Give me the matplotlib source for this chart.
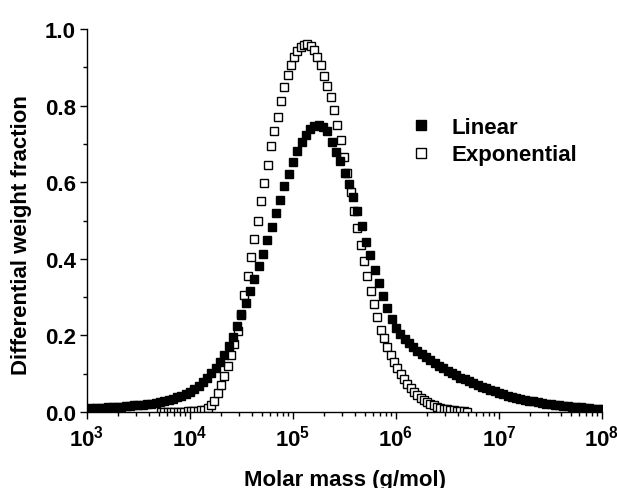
import numpy as np
import matplotlib
matplotlib.use("Agg")
import matplotlib.pyplot as plt
from matplotlib.ticker import LogLocator, MultipleLocator, FuncFormatter, NullFormatter

plt.rcParams['font.family'] = 'Liberation Sans'
plt.rcParams['font.weight'] = 'bold'
plt.rcParams['mathtext.fontset'] = 'custom'
plt.rcParams['mathtext.bf'] = 'Liberation Sans:bold'
plt.rcParams['mathtext.rm'] = 'Liberation Sans:bold'

# molar mass grids (log10 of g/mol), evenly spaced in log M
lin_logM = np.linspace(3.0, 8.0, 121)
exp_logM = np.linspace(3.72, 6.69, 93)

# differential weight fraction
linear = [
    0.009, 0.010, 0.010, 0.011, 0.011, 0.012, 0.012, 0.013, 0.014, 0.015,
    0.016, 0.017, 0.018, 0.019, 0.020, 0.022, 0.024, 0.026, 0.028, 0.031,
    0.034, 0.038, 0.042, 0.047, 0.053, 0.060, 0.068, 0.078, 0.090, 0.102,
    0.116, 0.131, 0.150, 0.172, 0.197, 0.224, 0.253, 0.285, 0.316, 0.347,
    0.380, 0.413, 0.448, 0.484, 0.519, 0.553, 0.589, 0.622, 0.653, 0.681,
    0.705, 0.724, 0.738, 0.746, 0.749, 0.745, 0.733, 0.706, 0.680, 0.655,
    0.625, 0.595, 0.562, 0.525, 0.485, 0.445, 0.410, 0.372, 0.337, 0.303,
    0.272, 0.243, 0.220, 0.203, 0.190, 0.179, 0.169, 0.160, 0.151, 0.143,
    0.135, 0.128, 0.121, 0.114, 0.108, 0.102, 0.096, 0.090, 0.085, 0.080,
    0.075, 0.070, 0.066, 0.062, 0.058, 0.054, 0.050, 0.047, 0.043, 0.040,
    0.037, 0.035, 0.032, 0.030, 0.028, 0.026, 0.024, 0.022, 0.020, 0.019,
    0.017, 0.016, 0.015, 0.014, 0.013, 0.012, 0.011, 0.010, 0.009, 0.008,
    0.008,
]
exponential = [
    0.0002, 0.0003, 0.0004, 0.0005, 0.0006, 0.0008, 0.0010, 0.0012, 0.0015, 0.0019,
    0.0024, 0.0030, 0.004, 0.006, 0.010, 0.017, 0.030, 0.049, 0.070, 0.093,
    0.119, 0.149, 0.178, 0.212, 0.256, 0.305, 0.355, 0.405, 0.453, 0.500,
    0.552, 0.598, 0.646, 0.694, 0.733, 0.771, 0.812, 0.848, 0.880, 0.907,
    0.928, 0.942, 0.953, 0.959, 0.960, 0.956, 0.944, 0.927, 0.906, 0.878,
    0.851, 0.822, 0.789, 0.750, 0.710, 0.667, 0.623, 0.574, 0.526, 0.480,
    0.437, 0.393, 0.354, 0.315, 0.281, 0.249, 0.215, 0.193, 0.170, 0.149,
    0.131, 0.114, 0.099, 0.085, 0.073, 0.062, 0.052, 0.044, 0.037, 0.031,
    0.025, 0.021, 0.017, 0.014, 0.011, 0.009, 0.007, 0.005, 0.004, 0.003,
    0.002, 0.0015, 0.001,
]

fig = plt.figure(figsize=(6.17, 4.89), dpi=100)
ax = fig.add_axes([0.141, 0.1554, 0.8347, 0.7832])

ax.plot(10 ** exp_logM, exponential, ls='none', marker='s', ms=5.6,
        mfc='white', mec='black', mew=1.0, label='Exponential', zorder=2)
ax.plot(10 ** lin_logM, linear, ls='none', marker='s', ms=5.6,
        mfc='black', mec='black', mew=1.0, label='Linear', zorder=3)

ax.set_xscale('log')
ax.set_xlim(1e3, 1e8)
ax.set_ylim(0, 1.0)

ax.spines['top'].set_visible(False)
ax.spines['right'].set_visible(False)
for s in ('left', 'bottom'):
    ax.spines[s].set_linewidth(1.0)

ax.xaxis.set_major_locator(LogLocator(base=10, numticks=10))
ax.xaxis.set_minor_locator(LogLocator(base=10, subs=np.arange(2, 10), numticks=20))
ax.xaxis.set_minor_formatter(NullFormatter())
ax.xaxis.set_major_formatter(FuncFormatter(lambda v, p: r'$\mathbf{10^{%d}}$' % round(np.log10(v))))
ax.yaxis.set_major_locator(MultipleLocator(0.2))
ax.yaxis.set_minor_locator(MultipleLocator(0.1))
ax.yaxis.set_major_formatter(FuncFormatter(lambda v, p: '%.1f' % v))

ax.tick_params(which='major', direction='out', length=5, width=1.0, labelsize=16)
ax.tick_params(which='minor', direction='out', length=3, width=1.0)
ax.tick_params(axis='y', pad=3)
ax.tick_params(axis='x', pad=4)

ax.set_xlabel('Molar mass (g/mol)', fontsize=16, fontweight='bold')
ax.set_ylabel('Differential weight fraction', fontsize=16, fontweight='bold')
ax.xaxis.set_label_coords(0.5, -0.15)
ax.yaxis.set_label_coords(-0.107, 0.465)

h, l = ax.get_legend_handles_labels()
ax.legend(h[::-1], l[::-1], loc='center left', bbox_to_anchor=(0.6266, 0.7076),
          frameon=False, fontsize=16, handlelength=1.0, handletextpad=0.9,
          labelspacing=0.3, borderpad=0, borderaxespad=0, markerscale=1.2,
          numpoints=1)

fig.savefig('out.png', dpi=100)
